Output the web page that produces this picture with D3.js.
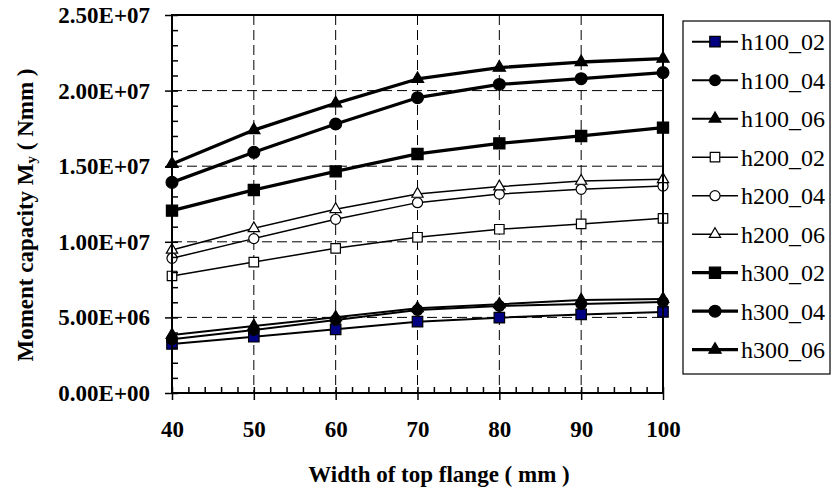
<!DOCTYPE html>
<html>
<head>
<meta charset="utf-8">
<script src="https://cdn.jsdelivr.net/npm/d3@7/dist/d3.min.js"></script>
<style>
  html, body { margin: 0; padding: 0; background: #fff; }
  svg { display: block; }
  text { font-family: "Liberation Serif", "Times New Roman", serif; fill: #000; }
</style>
</head>
<body>
<svg id="chart" width="832" height="490"></svg>
<script>
// Flange widths (mm) along the x axis
const widths = [40, 50, 60, 70, 80, 90, 100];

// Moment capacity My (Nmm) for each section
const h100_02 = [3.24e6, 3.72e6, 4.21e6, 4.72e6, 4.98e6, 5.20e6, 5.36e6];
const h100_04 = [3.55e6, 4.17e6, 4.83e6, 5.49e6, 5.75e6, 5.89e6, 6.02e6];
const h100_06 = [3.84e6, 4.43e6, 5.01e6, 5.60e6, 5.87e6, 6.15e6, 6.22e6];
const h200_02 = [7.74e6, 8.66e6, 9.57e6, 1.030e7, 1.083e7, 1.118e7, 1.155e7];
const h200_04 = [8.91e6, 1.021e7, 1.149e7, 1.259e7, 1.316e7, 1.347e7, 1.369e7];
const h200_06 = [9.46e6, 1.089e7, 1.215e7, 1.316e7, 1.365e7, 1.402e7, 1.413e7];
const h300_02 = [1.206e7, 1.343e7, 1.466e7, 1.581e7, 1.651e7, 1.700e7, 1.755e7];
const h300_04 = [1.393e7, 1.592e7, 1.779e7, 1.953e7, 2.041e7, 2.079e7, 2.119e7];
const h300_06 = [1.515e7, 1.739e7, 1.916e7, 2.077e7, 2.152e7, 2.189e7, 2.211e7];

const seriesNames = ["h100_02", "h100_04", "h100_06", "h200_02", "h200_04", "h200_06", "h300_02", "h300_04", "h300_06"];
const seriesValues = [h100_02, h100_04, h100_06, h200_02, h200_04, h200_06, h300_02, h300_04, h300_06];

// Axis ticks and their labels
const xTicks = [40, 50, 60, 70, 80, 90, 100];
const xTickLabels = ["40", "50", "60", "70", "80", "90", "100"];
const yTicks = [0, 5e6, 1e7, 1.5e7, 2e7, 2.5e7];
const yTickLabels = ["0.00E+00", "5.00E+06", "1.00E+07", "1.50E+07", "2.00E+07", "2.50E+07"];

const xTitle = "Width of top flange ( mm )";

// Drawing styles per series: marker shape, fill, line weight, marker size
const styleFor = {
  h100_02: { shape: d3.symbolSquare,   fill: "#000080", lw: 2,   size: 110 },
  h100_04: { shape: d3.symbolCircle,   fill: "#000",    lw: 2,   size: 90 },
  h100_06: { shape: d3.symbolTriangle, fill: "#000",    lw: 2,   size: 60 },
  h200_02: { shape: d3.symbolSquare,   fill: "#fff",    lw: 1.5, size: 90 },
  h200_04: { shape: d3.symbolCircle,   fill: "#fff",    lw: 1.5, size: 80 },
  h200_06: { shape: d3.symbolTriangle, fill: "#fff",    lw: 1.5, size: 55 },
  h300_02: { shape: d3.symbolSquare,   fill: "#000",    lw: 3.3, size: 125 },
  h300_04: { shape: d3.symbolCircle,   fill: "#000",    lw: 3.3, size: 110 },
  h300_06: { shape: d3.symbolTriangle, fill: "#000",    lw: 3.3, size: 65 }
};

const svg = d3.select("#chart");
const plotLeft = 172, plotRight = 663, plotTop = 15, plotBottom = 393;

const x = d3.scaleLinear().domain([40, 100]).range([plotLeft, plotRight]);
const y = d3.scaleLinear().domain([0, 2.5e7]).range([plotBottom, plotTop]);

// Dashed grid
const grid = svg.append("g").attr("stroke", "#000").attr("stroke-width", 1).attr("stroke-dasharray", "10,5");
grid.selectAll("line.gx").data(xTicks.slice(1, -1)).join("line")
  .attr("x1", d => x(d)).attr("x2", d => x(d)).attr("y1", plotTop).attr("y2", plotBottom);
grid.selectAll("line.gy").data(yTicks.slice(1, -1)).join("line")
  .attr("y1", d => y(d)).attr("y2", d => y(d)).attr("x1", plotLeft).attr("x2", plotRight);

// Series lines and markers
const line = d3.line().x((d, i) => x(widths[i])).y(d => y(d));
seriesNames.forEach((name, k) => {
  const st = styleFor[name];
  const g = svg.append("g");
  g.append("path").datum(seriesValues[k])
    .attr("d", line).attr("fill", "none").attr("stroke", "#000").attr("stroke-width", st.lw)
    .attr("stroke-linejoin", "round");
  g.selectAll("path.m").data(seriesValues[k]).join("path")
    .attr("transform", (d, i) => `translate(${x(widths[i])},${y(d)})`)
    .attr("d", d3.symbol().type(st.shape).size(st.size)())
    .attr("fill", st.fill).attr("stroke", "#000").attr("stroke-width", 1.2);
});

// Frame
svg.append("rect").attr("x", plotLeft).attr("y", plotTop)
  .attr("width", plotRight - plotLeft).attr("height", plotBottom - plotTop)
  .attr("fill", "none").attr("stroke", "#000").attr("stroke-width", 2);

// Y axis: major ticks crossing the axis, minor ticks inside
const yAxis = svg.append("g").attr("transform", `translate(${plotLeft},0)`)
  .call(d3.axisLeft(y).tickValues(yTicks).tickSize(7).tickPadding(15)
    .tickFormat((d, i) => yTickLabels[i]));
yAxis.select(".domain").remove();
yAxis.selectAll("line").attr("stroke-width", 1.5);
yAxis.selectAll("text").attr("font-size", 23).attr("font-weight", "bold")
  .attr("font-family", "Liberation Serif").attr("dy", "0.33em");
const yMinor = d3.range(0, 2.5e7 + 1, 1e6);
svg.append("g").attr("transform", `translate(${plotLeft},0)`)
  .call(d3.axisRight(y).tickValues(yMinor).tickSize(6).tickFormat(""))
  .call(g => g.select(".domain").remove())
  .selectAll("line").attr("stroke-width", 1.5);

// X axis: major ticks below, minor ticks inside
const xAxis = svg.append("g").attr("transform", `translate(0,${plotBottom})`)
  .call(d3.axisBottom(x).tickValues(xTicks).tickSize(7).tickPadding(21)
    .tickFormat((d, i) => xTickLabels[i]));
xAxis.select(".domain").remove();
xAxis.selectAll("line").attr("stroke-width", 1.5);
xAxis.selectAll("text").attr("font-size", 23).attr("font-weight", "bold")
  .attr("font-family", "Liberation Serif");
const xMinor = d3.range(40, 100.001, 2);
svg.append("g").attr("transform", `translate(0,${plotBottom})`)
  .call(d3.axisTop(x).tickValues(xMinor).tickSize(6).tickFormat(""))
  .call(g => g.select(".domain").remove())
  .selectAll("line").attr("stroke-width", 1.5);

// Axis titles
svg.append("text").attr("x", 439).attr("y", 482).attr("text-anchor", "middle")
  .attr("font-size", 23).attr("font-weight", "bold").text(xTitle);

const yTitle = svg.append("text")
  .attr("transform", "translate(33,215) rotate(-90)")
  .attr("text-anchor", "middle").attr("font-size", 23).attr("font-weight", "bold");
yTitle.append("tspan").text("Moment capacity M");
yTitle.append("tspan").attr("font-size", 15).attr("dy", 3).text("y");
yTitle.append("tspan").attr("dy", -3).text(" ( Nmm )");

// Legend
const lg = svg.append("g");
lg.append("rect").attr("x", 683).attr("y", 21).attr("width", 147).attr("height", 353)
  .attr("fill", "#fff").attr("stroke", "#000").attr("stroke-width", 1.2);
seriesNames.forEach((name, k) => {
  const st = styleFor[name];
  const cy = 41.7 + k * 38.5;
  lg.append("line").attr("x1", 692).attr("x2", 738).attr("y1", cy).attr("y2", cy)
    .attr("stroke", "#000").attr("stroke-width", st.lw);
  lg.append("path").attr("transform", `translate(715,${cy})`)
    .attr("d", d3.symbol().type(st.shape).size(st.size)())
    .attr("fill", st.fill).attr("stroke", "#000").attr("stroke-width", 1.2);
  lg.append("text").attr("x", 741).attr("y", cy).attr("dy", "0.35em")
    .attr("font-size", 24).text(name);
});
</script>
</body>
</html>
